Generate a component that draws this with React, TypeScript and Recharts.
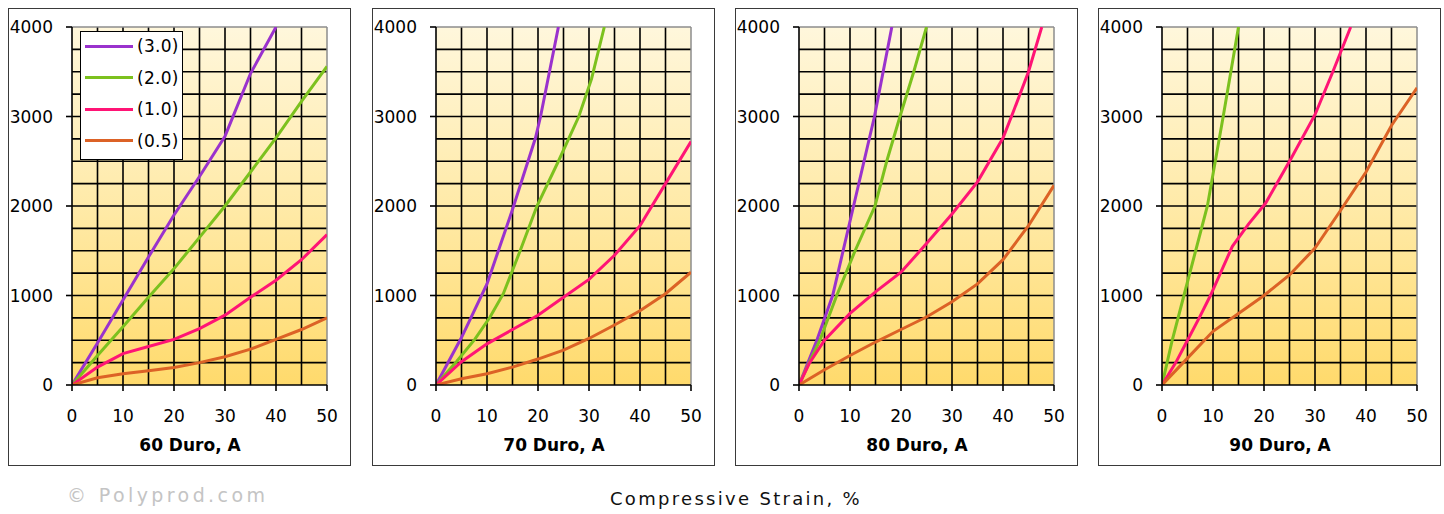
import React from "react";
import {
  LineChart,
  Line,
  XAxis,
  YAxis,
  CartesianGrid,
  ReferenceLine,
  Legend,
} from "recharts";

const STRAIN_TICKS = [0, 10, 20, 30, 40, 50];
const STRAIN_GRID = [5, 10, 15, 20, 25, 30, 35, 40, 45];
const STRESS_TICKS = [0, 1000, 2000, 3000, 4000];
const STRESS_GRID = [250, 500, 750, 1000, 1250, 1500, 1750, 2000, 2250, 2500, 2750, 3000, 3250, 3500, 3750];

const SERIES_NAMES = ["(3.0)", "(2.0)", "(1.0)", "(0.5)"];
const SERIES_COLORS = ["#9a32cd", "#7cc11e", "#ff1475", "#dc6226"];
const PANEL_TITLES = ["60 Duro, A", "70 Duro, A", "80 Duro, A", "90 Duro, A"];

// [strain %, stress]
const d60_30 = [[0, 0], [5, 470], [10, 950], [15, 1430], [20, 1900], [25, 2330], [30, 2780], [35, 3480], [40, 4000]];
const d60_20 = [[0, 0], [5, 330], [10, 650], [15, 980], [20, 1300], [25, 1650], [30, 2000], [35, 2380], [40, 2760], [45, 3170], [50, 3560]];
const d60_10 = [[0, 0], [5, 200], [10, 350], [15, 430], [20, 510], [25, 630], [30, 780], [35, 980], [40, 1170], [45, 1400], [50, 1680]];
const d60_05 = [[0, 0], [5, 80], [10, 125], [15, 160], [20, 195], [25, 250], [30, 315], [35, 400], [40, 510], [45, 620], [50, 750]];

const d70_30 = [[0, 0], [5, 530], [10, 1130], [15, 1960], [19.5, 2760], [20.5, 3000], [24, 4000]];
const d70_20 = [[0, 0], [4, 260], [7.6, 510], [10.6, 760], [13.2, 1020], [16.5, 1500], [19.8, 2000], [24, 2500], [28, 3000], [30.5, 3420], [33, 4000]];
const d70_10 = [[0, 0], [5, 260], [10, 460], [15, 620], [20, 780], [25, 980], [30, 1180], [35, 1450], [40, 1780], [45, 2250], [50, 2720]];
const d70_05 = [[0, 0], [5, 70], [10, 125], [15, 200], [20, 290], [25, 390], [30, 520], [35, 670], [40, 830], [45, 1020], [50, 1260]];

const d80_30 = [[0, 0], [3.5, 500], [6.6, 1000], [10.7, 2000], [14.8, 3000], [18.2, 4000]];
const d80_20 = [[0, 0], [2, 250], [4.1, 500], [7.4, 1000], [11, 1500], [14.9, 2000], [17.2, 2500], [19.8, 3000], [22.5, 3500], [25, 4000]];
const d80_10 = [[0, 0], [2, 240], [5, 500], [10, 800], [15, 1040], [20, 1260], [25, 1580], [30, 1910], [35, 2270], [40, 2760], [42, 3050], [45, 3500], [47.6, 4000]];
const d80_05 = [[0, 0], [5, 170], [10, 330], [15, 480], [20, 620], [25, 760], [30, 930], [35, 1130], [40, 1400], [45, 1780], [50, 2230]];

const d90_20 = [[0, 0], [2, 500], [4.3, 1000], [8.9, 2000], [12, 3000], [15, 4000]];
const d90_10 = [[0, 0], [2.7, 250], [5, 500], [7.3, 750], [9.5, 1000], [13.8, 1550], [17, 1800], [20.3, 2030], [25.2, 2520], [30, 3020], [33.5, 3500], [37, 4000]];
const d90_05 = [[0, 0], [5, 300], [10, 600], [15, 800], [20, 1000], [25, 1230], [30, 1530], [35, 1950], [40, 2380], [45, 2900], [50, 3320]];

const PANEL_DATA = [
  [d60_30, d60_20, d60_10, d60_05],
  [d70_30, d70_20, d70_10, d70_05],
  [d80_30, d80_20, d80_10, d80_05],
  [null, d90_20, d90_10, d90_05],
];

const PANEL_LEFT = [8, 372, 735, 1098];
const FONT = "'DejaVu Sans', sans-serif";

const toPoints = (arr: number[][]) => arr.map(([x, y]) => ({ x, y }));

function LegendBox() {
  return (
    <div
      style={{
        width: 101,
        height: 127,
        background: "#fff",
        border: "1px solid #000",
        fontFamily: FONT,
        fontSize: 17,
        color: "#000",
        position: "relative",
      }}
    >
      {SERIES_NAMES.map((name, i) => (
        <div
          key={name}
          style={{ position: "absolute", left: 0, top: 3 + i * 31.5, height: 22, display: "flex", alignItems: "center" }}
        >
          <div style={{ marginLeft: 4, width: 48, height: 3, background: SERIES_COLORS[i] }} />
          <span style={{ marginLeft: 4, letterSpacing: 0.3 }}>{name}</span>
        </div>
      ))}
    </div>
  );
}

function Panel({ idx }: { idx: number }) {
  const left = PANEL_LEFT[idx];
  const series = PANEL_DATA[idx];
  const gid = `bg${idx}`;
  const axisStroke = { stroke: "#000", strokeWidth: 1.6 };
  const tickFont = { fill: "#000", fontSize: 17, fontFamily: FONT };
  return (
    <>
      <div
        style={{
          position: "absolute",
          left,
          top: 8,
          width: 343,
          height: 458,
          border: "1.5px solid #3a3a3a",
          boxSizing: "border-box",
        }}
      />
      <div style={{ position: "absolute", left, top: 8 }}>
        <LineChart width={343} height={458} margin={{ top: 19, right: 24, bottom: 41, left: 0 }}>
          <defs>
            <linearGradient id={gid} x1="0" y1="0" x2="0" y2="1">
              <stop offset="0%" stopColor="#fff7dc" />
              <stop offset="50%" stopColor="#ffeaa8" />
              <stop offset="100%" stopColor="#ffda6c" />
            </linearGradient>
          </defs>
          <CartesianGrid horizontal={false} vertical={false} fill={`url(#${gid})`} fillOpacity={1} />
          <XAxis
            type="number"
            dataKey="x"
            domain={[0, 50]}
            ticks={STRAIN_TICKS}
            height={40}
            tickSize={6}
            tickMargin={19}
            axisLine={axisStroke}
            tickLine={axisStroke}
            tick={tickFont}
            allowDataOverflow
          />
          <YAxis
            type="number"
            domain={[0, 4000]}
            ticks={STRESS_TICKS}
            width={64}
            tickSize={6}
            tickMargin={13}
            axisLine={axisStroke}
            tickLine={axisStroke}
            tick={tickFont}
            allowDataOverflow
          />
          {STRESS_GRID.map((v) => (
            <ReferenceLine key={`h${v}`} y={v} stroke="#000" strokeWidth={1.6} />
          ))}
          {STRAIN_GRID.map((v) => (
            <ReferenceLine key={`v${v}`} x={v} stroke="#000" strokeWidth={1.6} />
          ))}
          <ReferenceLine y={4000} stroke="#8c8c8c" strokeWidth={1.5} />
          <ReferenceLine x={50} stroke="#8c8c8c" strokeWidth={1.5} />
          {series.map((s, i) =>
            s ? (
              <Line
                key={i}
                data={toPoints(s)}
                dataKey="y"
                name={SERIES_NAMES[i]}
                type="linear"
                stroke={SERIES_COLORS[i]}
                strokeWidth={3}
                dot={false}
                isAnimationActive={false}
              />
            ) : null
          )}
          {idx === 0 && (
            <Legend
              layout="vertical"
              align="center"
              verticalAlign="middle"
              content={<LegendBox />}
              wrapperStyle={{ left: 72, top: 23, width: 103, height: 129 }}
            />
          )}
        </LineChart>
      </div>
      <div
        style={{
          position: "absolute",
          left: left + 182 - 80,
          width: 160,
          top: 435,
          textAlign: "center",
          fontFamily: FONT,
          fontWeight: "bold",
          fontSize: 17,
          color: "#000",
        }}
      >
        {PANEL_TITLES[idx]}
      </div>
    </>
  );
}

export default function App() {
  return (
    <div
      style={{
        position: "absolute",
        left: 0,
        top: 0,
        width: 1444,
        height: 514,
        background: "#fff",
        overflow: "hidden",
      }}
    >
      {[0, 1, 2, 3].map((i) => (
        <Panel key={i} idx={i} />
      ))}
      <div
        style={{
          position: "absolute",
          left: 67,
          top: 484,
          fontFamily: FONT,
          fontSize: 19,
          letterSpacing: 3.4,
          color: "#c4c4c4",
        }}
      >
        © Polyprod.com
      </div>
      <div
        style={{
          position: "absolute",
          left: 536,
          width: 400,
          top: 488,
          textAlign: "center",
          fontFamily: FONT,
          fontSize: 18,
          letterSpacing: 2.3,
          color: "#111",
        }}
      >
        Compressive Strain, %
      </div>
    </div>
  );
}
